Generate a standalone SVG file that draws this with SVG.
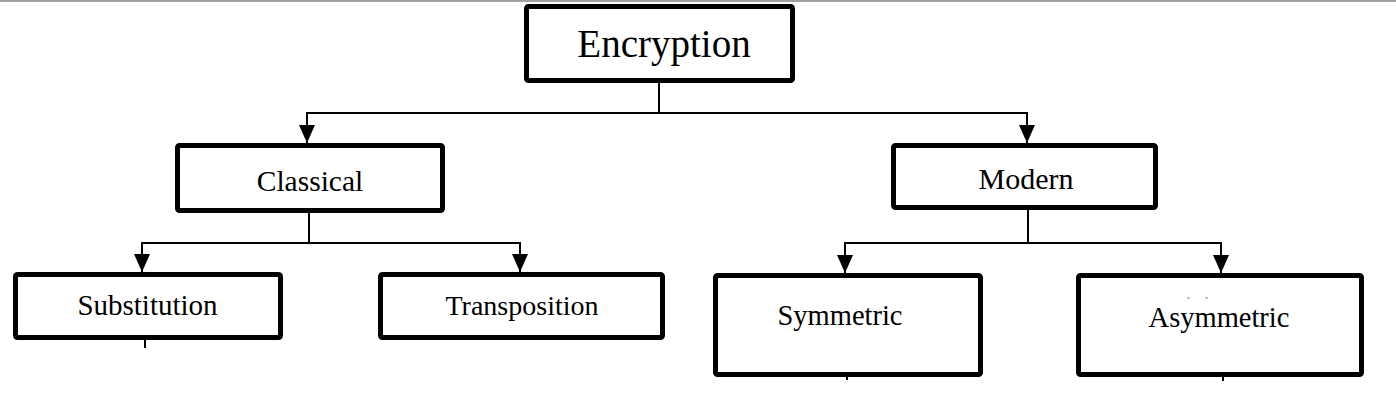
<svg xmlns="http://www.w3.org/2000/svg" width="1396" height="404" viewBox="0 0 1396 404">
<style>
.box{fill:#fff;stroke:#000;stroke-width:5;}
.lbl{font-family:"Liberation Serif","Times New Roman",serif;fill:#000;text-anchor:middle;}
.con{fill:none;stroke:#000;stroke-width:2;}
.stub{stroke:#000;stroke-width:2;}
</style>
<defs>
<marker id="ah" markerUnits="userSpaceOnUse" markerWidth="18" markerHeight="16" refX="18" refY="8" orient="auto" viewBox="0 0 18 16">
<path d="M0,0 L18,8 L0,16 Z" fill="#000"/>
</marker>
</defs>
<rect x="0" y="0" width="1396" height="2" fill="#a0a0a0"/>
<g id="connectors">
<path class="con" d="M659,83 V113 H307 V143" marker-end="url(#ah)"/>
<path class="con" d="M659,83 V113 H1027 V143" marker-end="url(#ah)"/>
<path class="con" d="M309,213 V243 H142 V272" marker-end="url(#ah)"/>
<path class="con" d="M309,213 V243 H520 V272" marker-end="url(#ah)"/>
<path class="con" d="M1028,210 V243 H845 V273" marker-end="url(#ah)"/>
<path class="con" d="M1028,210 V243 H1221 V273" marker-end="url(#ah)"/>
<line class="stub" x1="145" y1="340" x2="145" y2="348"/>
<line class="stub" x1="847" y1="377" x2="847" y2="380"/>
<line class="stub" x1="1223" y1="377" x2="1223" y2="381"/>
</g>
<g id="encryption">
<rect class="box" x="526.5" y="6.5" width="266" height="74" rx="2"/>
<text class="lbl" x="664" y="57" font-size="39">Encryption</text>
</g>
<g id="classical">
<rect class="box" x="177.5" y="145.5" width="265" height="65" rx="2"/>
<text class="lbl" x="310" y="191" font-size="29.5">Classical</text>
</g>
<g id="modern">
<rect class="box" x="893.5" y="145.5" width="262" height="62" rx="2"/>
<text class="lbl" x="1026" y="189" font-size="30">Modern</text>
</g>
<g id="substitution">
<rect class="box" x="15.5" y="274.5" width="265" height="63" rx="2"/>
<text class="lbl" x="147.5" y="315" font-size="29">Substitution</text>
</g>
<g id="transposition">
<rect class="box" x="380.5" y="274.5" width="282" height="63" rx="2"/>
<text class="lbl" x="522" y="315" font-size="28">Transposition</text>
</g>
<g id="symmetric">
<rect class="box" x="715.5" y="275.5" width="265" height="99" rx="2"/>
<text class="lbl" x="840" y="325" font-size="28.5">Symmetric</text>
</g>
<g id="asymmetric">
<rect class="box" x="1078.5" y="275.5" width="283" height="99" rx="2"/>
<line x1="1187" y1="298" x2="1190" y2="298" stroke="#888" stroke-width="1"/>
<line x1="1205" y1="298" x2="1208" y2="298" stroke="#888" stroke-width="1"/>
<text class="lbl" x="1219" y="327" font-size="28.5">Asymmetric</text>
</g>
</svg>
